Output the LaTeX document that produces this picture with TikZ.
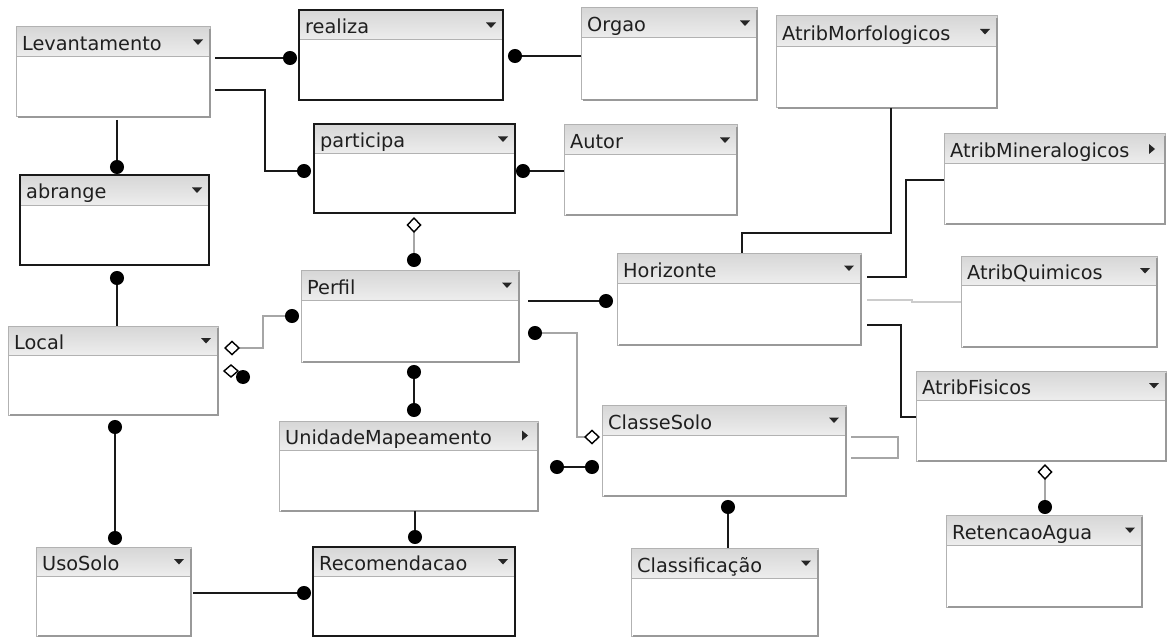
\documentclass[tikz,border=0pt]{standalone}
\usepackage{fontspec}
\newfontfamily\uifont{DejaVu Sans}
\usetikzlibrary{arrows.meta}

\tikzset{
 ent/.style={inner sep=0pt, outer sep=0pt, fill=white, anchor=north west},
 gbox/.style={draw=gray!60, line width=1pt},
 gshadow/.style={draw=gray!80, line width=2.4pt},
 bbox/.style={draw=black!90, line width=1.8pt},
 bshadow/.style={draw=black!90, line width=2.2pt},
 hdr/.style={top color=gray!32, middle color=white, bottom color=gray!14},
 divline/.style={draw=gray!60, line width=1pt},
 title/.style={font=\uifont\fontsize{19.3}{21}\selectfont, text=black!88, anchor=base west, inner sep=0pt},
 conn/.style={draw=black!90, line width=1.5pt},
 gconn/.style={draw=gray!70, line width=1.3pt},
 lconn/.style={draw=gray!40, line width=1.2pt},
 toDot/.style={-{Circle[length=14pt,color=black]}},
 fromDot/.style={{Circle[length=14pt,color=black]}-},
 dotDot/.style={{Circle[length=14pt,color=black]}-{Circle[length=14pt,color=black]}},
 diaDot/.style={{Diamond[length=16pt,width=15pt,fill=white,color=black,line width=1.4pt]}-{Circle[length=14pt,color=black]}},
 dotDia/.style={{Circle[length=14pt,color=black]}-{Diamond[length=16pt,width=15pt,fill=white,color=black,line width=1.4pt]}},
 trimark/.style={fill=black!85},
 diamark/.style={draw=black, line width=1.4pt, fill=white},
}

% triangle markers in the header
\newcommand\trid[3]{\fill[trimark] ({#1-17},{(#2+#3)/2-2.5}) -- ({#1-7},{(#2+#3)/2-2.5}) -- ({#1-12},{(#2+#3)/2+3}) -- cycle;}
\newcommand\trir[3]{\fill[trimark] ({#1-16},{(#2+#3)/2-5}) -- ({#1-10},{(#2+#3)/2}) -- ({#1-16},{(#2+#3)/2+5}) -- cycle;}

% name, x1, y1, x2, y2, divider y, title, kind (g/b), marker (d/r)
\newcommand\ent[9]{%
 \node[ent, minimum width={#4-#2}, minimum height={#5-#3}] (#1) at (#2,#3) {};
 \shade[hdr] (#2,#3) rectangle (#4,#6);
 \draw[divline] (#2,#6) -- (#4,#6);
 \draw[#8box] (#1.north west) rectangle (#1.south east);
 \draw[#8shadow] ([yshift=-2pt]#1.north east) -- (#1.south east) -- ([xshift=2pt]#1.south west);
 \node[title] (#1t) at ({#2+6},{#6-6}) {#7};
 \csname tri#9\endcsname{#4}{#3}{#6}
}

\begin{document}
\begin{tikzpicture}[x=1pt,y=-1pt]
\fill[white] (0,0) rectangle (1169,639);
\useasboundingbox (0,0) rectangle (1169,639);

\ent{lev}{16}{27}{210}{117}{57}{Levantamento}{g}{d}
\ent{realiza}{299}{10}{503}{100}{40}{realiza}{b}{d}
\ent{orgao}{581}{8}{757}{100}{38}{Orgao}{g}{d}
\ent{participa}{314}{124}{515}{213}{154}{participa}{b}{d}
\ent{autor}{564}{125}{737}{215}{155}{Autor}{g}{d}
\ent{morf}{776}{16}{997}{108}{47}{AtribMorfologicos}{g}{d}
\ent{miner}{944}{134}{1165}{224}{164}{AtribMineralogicos}{g}{r}
\ent{abrange}{20}{175}{209}{265}{205}{abrange}{b}{d}
\ent{local}{8}{326}{218}{415}{355}{Local}{g}{d}
\ent{perfil}{301}{270}{519}{362}{300}{Perfil}{g}{d}
\ent{horiz}{617}{253}{861}{345}{283}{Horizonte}{g}{d}
\ent{quim}{961}{256}{1157}{347}{285}{AtribQuimicos}{g}{d}
\ent{fis}{916}{371}{1166}{461}{400}{AtribFisicos}{g}{d}
\ent{classe}{602}{405}{846}{496}{435}{ClasseSolo}{g}{d}
\ent{unidade}{279}{421}{538}{511}{450}{UnidadeMapeamento}{g}{r}
\ent{recom}{313}{547}{515}{636}{576}{Recomendacao}{b}{d}
\ent{uso}{36}{547}{191}{636}{576}{UsoSolo}{g}{d}
\ent{classif}{631}{548}{818}{636}{578}{Classificação}{g}{d}
\ent{retenc}{946}{515}{1142}{607}{545}{RetencaoAgua}{g}{d}

% connectors
\draw[conn, toDot, shorten <=5pt, shorten >=2pt] (lev.east |- 0,58) -- (realiza.west |- 0,58);
\draw[conn, toDot, shorten <=5pt, shorten >=3pt] (lev.east |- 0,90) -- (265,90) -- (265,171) -- (participa.west |- 0,171);
\draw[conn, toDot, shorten <=3pt, shorten >=1pt] (lev.south -| 117,0) -- (abrange.north -| 117,0);
\draw[conn, toDot, shorten >=5pt] (orgao.west |- 0,56) -- (realiza.east |- 0,56);
\draw[conn, toDot, shorten >=1pt] (autor.west |- 0,171) -- (participa.east |- 0,171);
\draw[gconn, diaDot, shorten <=4pt, shorten >=3pt] (participa.south -| 414,0) -- (perfil.north -| 414,0);
\draw[conn, fromDot, shorten <=6pt] (abrange.south -| 117,0) -- (local.north -| 117,0);
\draw[gconn, diaDot, shorten <=6pt, shorten >=2pt] (local.east |- 0,348) -- (263,348) -- (263,316) -- (perfil.west |- 0,316);
\draw[conn, dotDot, shorten <=5pt, shorten >=2pt] (local.south -| 115,0) -- (uso.north -| 115,0);
\draw[conn, toDot, shorten <=2pt, shorten >=2pt] (uso.east |- 0,593) -- (recom.west |- 0,593);
\draw[conn, dotDot, shorten <=3pt, shorten >=4pt] (perfil.south -| 414,0) -- (unidade.north -| 414,0);
\draw[conn, toDot, shorten >=3pt] (unidade.south -| 415,0) -- (recom.north -| 415,0);
\draw[conn, toDot, shorten <=9pt, shorten >=4pt] (perfil.east |- 0,301) -- (horiz.west |- 0,301);
\draw[gconn, dotDia, shorten <=9pt, shorten >=2pt] (perfil.east |- 0,333) -- (577,333) -- (577,437) -- (classe.west |- 0,437);
\draw[conn, dotDot, shorten <=12pt, shorten >=3pt] (unidade.east |- 0,467) -- (classe.west |- 0,467);
\draw[conn, fromDot, shorten <=4pt] (classe.south -| 728,0) -- (classif.north -| 728,0);
\draw[conn] (morf.south -| 891,0) -- (891,233) -- (742,233) -- (horiz.north -| 742,0);
\draw[conn, shorten <=6pt] (horiz.east |- 0,277) -- (906,277) -- (906,180) -- (miner.west |- 0,180);
\draw[lconn, shorten <=6pt] (horiz.east |- 0,300) -- (912,300) -- (912,302) -- (quim.west |- 0,302);
\draw[conn, shorten <=6pt] (horiz.east |- 0,325) -- (901,325) -- (901,417) -- (fis.west |- 0,417);
\draw[gconn, shorten <=5pt, shorten >=5pt] (classe.east |- 0,437) -- (898,437) -- (898,458) -- (classe.east |- 0,458);
\draw[gconn, diaDot, shorten <=3pt, shorten >=1pt] (fis.south -| 1045,0) -- (retenc.north -| 1045,0);

% overlapping marks beside Local
\draw[diamark] (224,371) -- (231,365) -- (238,371) -- (231,377) -- cycle;
\fill[black] (243,377) circle[radius=7pt];
\end{tikzpicture}
\end{document}
